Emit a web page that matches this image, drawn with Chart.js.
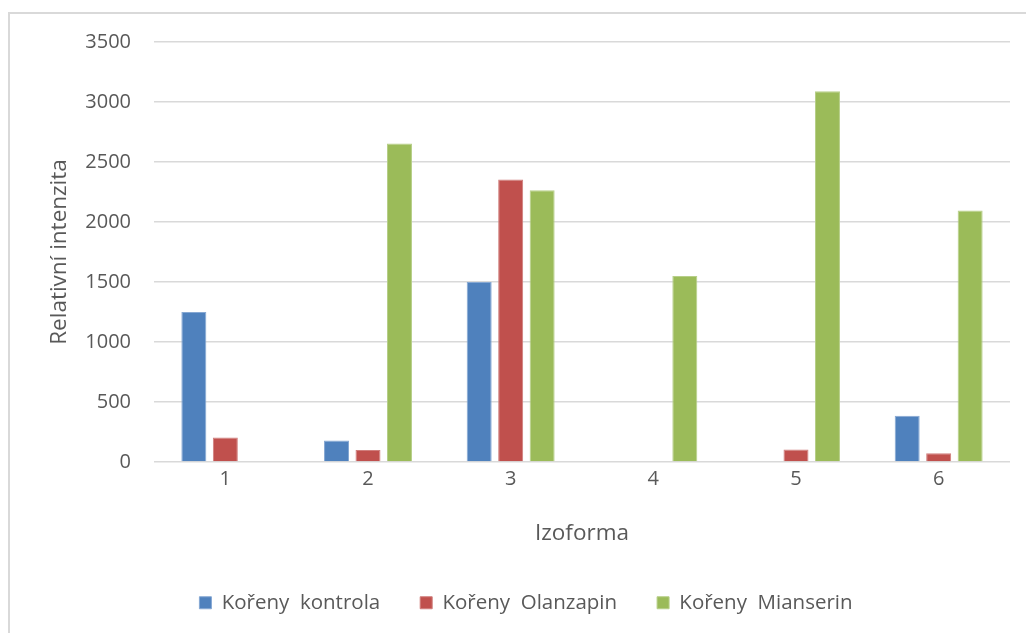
<!DOCTYPE html>
<html>
<head>
<meta charset="utf-8">
<script src="https://cdn.jsdelivr.net/npm/chart.js@4.4.1/dist/chart.umd.min.js"></script>
<style>
  html, body { margin: 0; padding: 0; background: #ffffff; }
  #wrap { width: 1026px; height: 633px; }
</style>
</head>
<body>
<div id="wrap"><canvas id="chart" width="1026" height="633"></canvas></div>
<script>
// Isoform labels along the category axis
const izoformy = ['1', '2', '3', '4', '5', '6'];

// Relative intensity per isoform for each root treatment
const korenyKontrola = [1250, 180, 1500, 0, 0, 385];
const korenyOlanzapin = [205, 100, 2355, 0, 105, 72];
const korenyMianserin = [0, 2655, 2265, 1550, 3090, 2095];

// Series names shown in the legend
const nazvySerii = ['Kořeny  kontrola', 'Kořeny  Olanzapin', 'Kořeny  Mianserin'];

// Value axis range and step
const osaYMin = 0;
const osaYMax = 3500;
const osaYKrok = 500;

const textColor = '#595959';
const gridColor = '#d9d9d9';
const fontFamily = "'Open Sans', Lato, 'Liberation Sans', sans-serif";

// Light grey frame around the chart (top and left edges are in view)
const framePlugin = {
  id: 'frame',
  beforeDraw(chart) {
    const ctx = chart.ctx;
    ctx.save();
    ctx.fillStyle = '#ffffff';
    ctx.fillRect(0, 0, chart.width, chart.height);
    ctx.strokeStyle = gridColor;
    ctx.lineWidth = 2;
    ctx.beginPath();
    ctx.moveTo(9, chart.height);
    ctx.lineTo(9, 13);
    ctx.lineTo(chart.width, 13);
    ctx.stroke();
    ctx.restore();
  }
};

const barStyle = (fill, edge) => ({
  backgroundColor: fill,
  borderColor: edge,
  borderWidth: 1,
  borderSkipped: 'start'
});

new Chart(document.getElementById('chart'), {
  type: 'bar',
  data: {
    labels: izoformy,
    datasets: [
      Object.assign({ label: nazvySerii[0], data: korenyKontrola }, barStyle('#4F81BD', '#86A8D3')),
      Object.assign({ label: nazvySerii[1], data: korenyOlanzapin }, barStyle('#C0504D', '#D07E7C')),
      Object.assign({ label: nazvySerii[2], data: korenyMianserin }, barStyle('#9BBB59', '#B7CF89'))
    ]
  },
  options: {
    responsive: false,
    animation: false,
    devicePixelRatio: 1,
    categoryPercentage: 0.662,
    barPercentage: 0.794,
    layout: {
      padding: { top: 42, right: 16, bottom: 10, left: 42 }
    },
    plugins: {
      tooltip: { enabled: false },
      legend: {
        position: 'bottom',
        labels: {
          boxWidth: 12,
          boxHeight: 12,
          padding: 40,
          color: textColor,
          font: { family: fontFamily, size: 20.5 }
        }
      }
    },
    scales: {
      x: {
        grid: { display: false, drawTicks: false },
        border: { display: false },
        ticks: {
          color: textColor,
          padding: 5,
          font: { family: fontFamily, size: 20 }
        },
        title: {
          display: true,
          text: 'Izoforma',
          color: textColor,
          padding: { top: 0, bottom: 5 },
          font: { family: fontFamily, size: 22.5 }
        },
        afterFit(scale) {
          const lg = scale.chart.legend;
          const legendH = lg && lg.height ? lg.height : 70.5;
          scale.height = scale.chart.height - 10 - legendH - 462;
        }
      },
      y: {
        min: osaYMin,
        max: osaYMax,
        grid: { color: gridColor, lineWidth: 1.5, drawTicks: false },
        border: { display: false },
        ticks: {
          stepSize: osaYKrok,
          color: textColor,
          padding: 23,
          font: { family: fontFamily, size: 20 },
          callback: (value) => String(value)
        },
        title: {
          display: true,
          text: 'Relativní intenzita',
          color: textColor,
          padding: { top: 4.5, bottom: 0 },
          font: { family: fontFamily, size: 22.5 }
        },
        afterFit(scale) { scale.width = 112; }
      }
    }
  },
  plugins: [framePlugin]
});
</script>
</body>
</html>
